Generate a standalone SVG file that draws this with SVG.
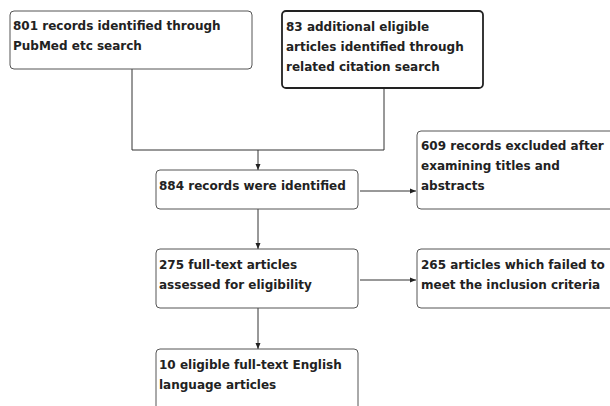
<svg xmlns="http://www.w3.org/2000/svg" width="610" height="406" viewBox="0 0 610 406">
<defs>
<marker id="ah" markerWidth="6" markerHeight="6" refX="6" refY="3" orient="auto" markerUnits="userSpaceOnUse">
<path d="M0,0.5 L6,3 L0,5.5 Z" fill="#222"/>
</marker>
<style>
.box{fill:#fff;stroke:#555;stroke-width:1}
.boxd{fill:#fff;stroke:#222;stroke-width:1.8}
.t{font-family:"DejaVu Sans",Verdana,sans-serif;font-weight:bold;font-size:12px;fill:#222}
.c{fill:none;stroke:#333;stroke-width:1}
</style>
</defs>
<rect width="610" height="406" fill="#fff"/>
<g id="connectors">
<path class="c" d="M132,69 V150 H384 V88"/>
<path class="c" d="M258,150 V170" marker-end="url(#ah)"/>
<path class="c" d="M360,191 H416" marker-end="url(#ah)"/>
<path class="c" d="M258,209 V249" marker-end="url(#ah)"/>
<path class="c" d="M360,280 H416" marker-end="url(#ah)"/>
<path class="c" d="M258,308 V349" marker-end="url(#ah)"/>
</g>
<g id="n1">
<rect class="box" x="10" y="11" width="242" height="58" rx="4"/>
<text class="t" x="13" y="30">801 records identified through</text>
<text class="t" x="13" y="50">PubMed etc search</text>
</g>
<g id="n2">
<rect class="boxd" x="282" y="11" width="201" height="77" rx="4"/>
<text class="t" x="286" y="31">83 additional eligible</text>
<text class="t" x="286" y="51">articles identified through</text>
<text class="t" x="286" y="71">related citation search</text>
</g>
<g id="n3">
<rect class="box" x="156" y="170" width="202" height="39" rx="4"/>
<text class="t" x="159" y="190">884 records were identified</text>
</g>
<g id="n4">
<rect class="box" x="417" y="131" width="200" height="78" rx="4"/>
<text class="t" x="421" y="150">609 records excluded after</text>
<text class="t" x="421" y="170">examining titles and</text>
<text class="t" x="421" y="190">abstracts</text>
</g>
<g id="n5">
<rect class="box" x="156" y="249" width="202" height="59" rx="4"/>
<text class="t" x="159" y="269">275 full-text articles</text>
<text class="t" x="159" y="289">assessed for eligibility</text>
</g>
<g id="n6">
<rect class="box" x="417" y="249" width="200" height="59" rx="4"/>
<text class="t" x="421" y="269">265 articles which failed to</text>
<text class="t" x="421" y="289">meet the inclusion criteria</text>
</g>
<g id="n7">
<rect class="box" x="156" y="349" width="202" height="70" rx="4"/>
<text class="t" x="159" y="369">10 eligible full-text English</text>
<text class="t" x="159" y="389">language articles</text>
</g>
</svg>
